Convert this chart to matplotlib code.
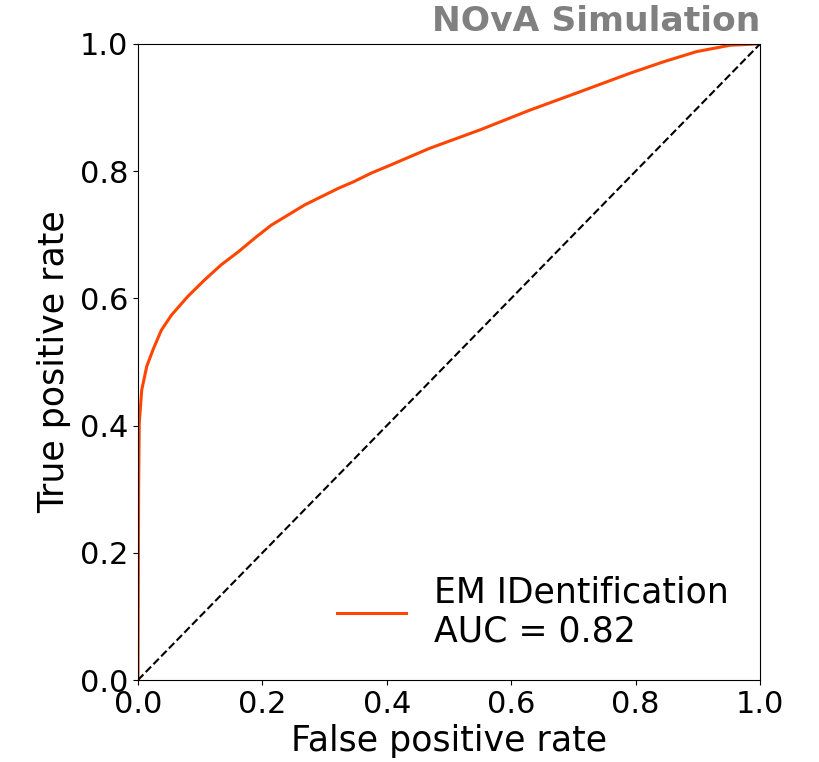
import matplotlib
matplotlib.use("Agg")
import matplotlib.pyplot as plt

fpr = [0.0, 0.0005, 0.001, 0.002, 0.006, 0.014, 0.024, 0.0375, 0.054, 0.080, 0.107, 0.134,
       0.161, 0.188, 0.214, 0.241, 0.268, 0.295, 0.322, 0.348, 0.375, 0.402, 0.469, 0.550,
       0.630, 0.711, 0.791, 0.845, 0.898, 0.952, 0.995, 1.0]
tpr = [0.0, 0.15, 0.30, 0.404, 0.456, 0.493, 0.519, 0.550, 0.574, 0.603, 0.629, 0.653,
       0.673, 0.695, 0.715, 0.731, 0.747, 0.760, 0.773, 0.784, 0.797, 0.808, 0.836, 0.865,
       0.896, 0.925, 0.954, 0.972, 0.988, 0.998, 1.0, 1.0]
label = "EM IDentification\nAUC = 0.82"
title = "NOvA Simulation"

fig = plt.figure(figsize=(8.19, 7.62), dpi=100)
ax = fig.add_axes([0.1685, 0.1076, 0.928 - 0.1685, 0.9423 - 0.1076])
ax.plot(fpr, tpr, color="#FF4500", lw=2.2, label=label)
ax.plot([0, 1], [0, 1], color="black", ls="--", lw=1.5)
ax.set_xlim(0, 1)
ax.set_ylim(0, 1)
ax.set_xlabel("False positive rate", fontsize=25, labelpad=4)
ax.set_ylabel("True positive rate", fontsize=25, labelpad=6)
ax.tick_params(labelsize=22)
ax.legend(loc="lower right", frameon=False, fontsize=25, handlelength=2.0,
          bbox_to_anchor=(1.0, 0.0), borderaxespad=0.5)
ax.text(1.0, 1.01, title, transform=ax.transAxes, ha="right", va="bottom",
        fontsize=24.8, fontweight="bold", color="gray")
fig.savefig("out.png", dpi=100)
